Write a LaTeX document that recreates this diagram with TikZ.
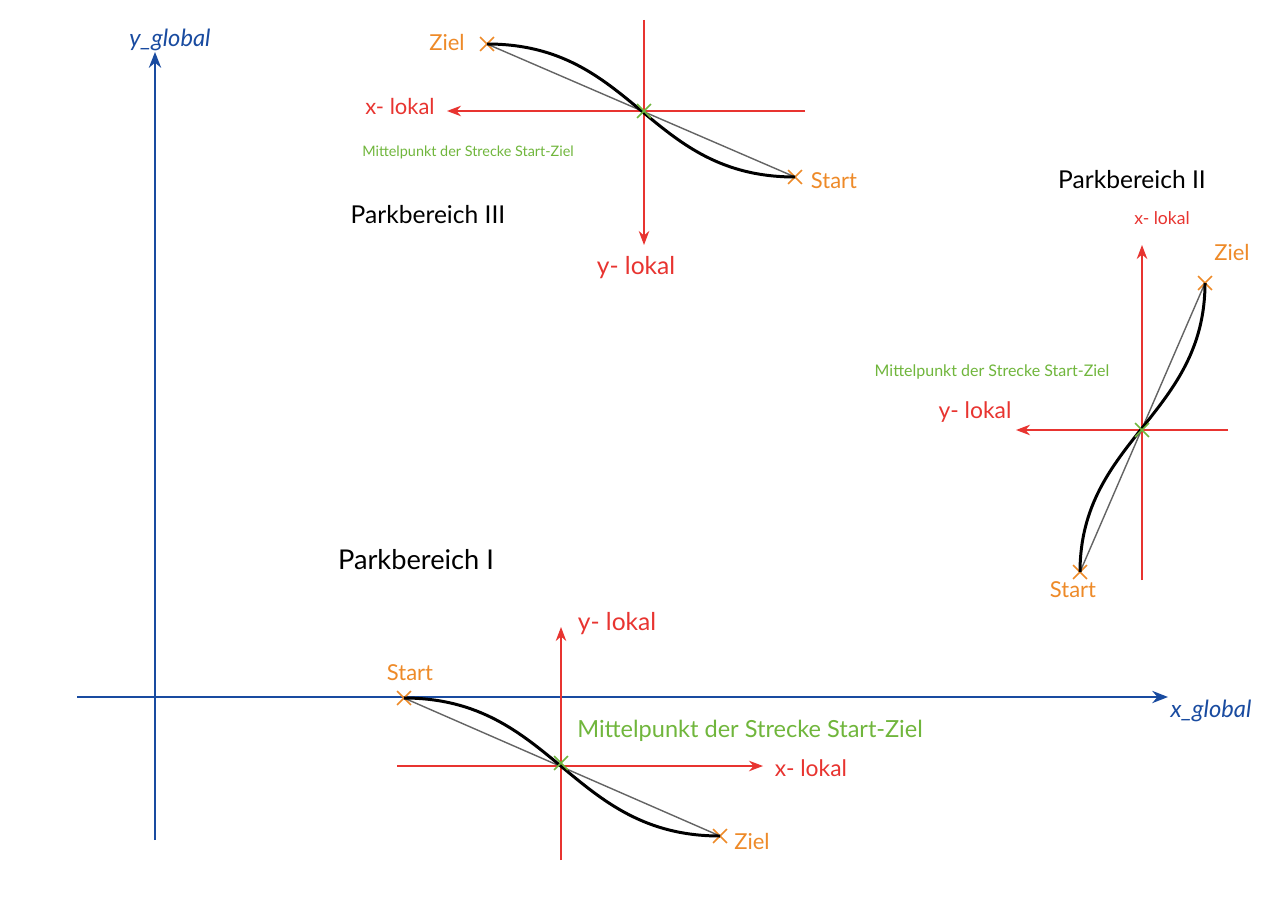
\documentclass[tikz,border=0pt]{standalone}
\usepackage{fontspec}
\setmainfont{Lato}
\usetikzlibrary{arrows.meta,shapes.misc}
\definecolor{gblue}{RGB}{25,75,160}
\definecolor{lred}{RGB}{232,52,48}
\definecolor{lorange}{RGB}{238,138,40}
\definecolor{lgreen}{RGB}{112,182,60}
\definecolor{chord}{RGB}{100,100,100}
\tikzset{
  globalaxis/.style={draw=gblue, line width=1.1pt, -{Stealth[length=9pt,width=7pt]}},
  localaxis/.style={draw=lred, line width=0.7pt, -{Stealth[length=8pt,width=6pt]}},
  pathcurve/.style={draw=black, line width=1.7pt},
  chordline/.style={draw=chord, line width=0.8pt},
  endmark/.style={cross out, draw=lorange, line width=0.9pt, minimum size=7pt, inner sep=0pt},
  midmark/.style={cross out, draw=lgreen, line width=0.9pt, minimum size=7pt, inner sep=0pt},
  globallabel/.style={text=gblue, font=\itshape\fontsize{13.5}{14}\selectfont, inner sep=0pt},
  locallabel/.style={text=lred, font=\fontsize{13}{13}\selectfont, inner sep=0pt},
  endlabel/.style={text=lorange, font=\fontsize{12.5}{13}\selectfont, inner sep=0pt},
  midlabel/.style={text=lgreen, font=\fontsize{13.4}{14}\selectfont, inner sep=0pt},
  arealabel/.style={text=black, font=\fontsize{15.5}{16}\selectfont, inner sep=0pt},
}
\begin{document}
\begin{tikzpicture}[x=0.02cm, y=-0.02cm]
\useasboundingbox (0,0) rectangle (1280,902);
\fill[white] (0,0) rectangle (1280,902);

% global axes
\coordinate (gyS) at (155,840);
\coordinate (gyE) at (155,52);
\coordinate (gxS) at (77,697);
\coordinate (gxE) at (1168,697);
\draw[globalaxis] (gyS) -- (gyE);
\draw[globalaxis] (gxS) -- (gxE);
\node[globallabel] (ygl) at (170,40) {y\_global};
\node[globallabel] (xgl) at (1211,711) {x\_global};

% ---------- Parkbereich I ----------
\coordinate (o1) at (561,763);
\coordinate (a1yS) at (561,860);
\coordinate (a1yE) at (561,627);
\coordinate (a1xS) at (397,766);
\coordinate (a1xE) at (763,766);
\draw[localaxis] (a1yS) -- (a1yE);
\draw[localaxis] (a1xS) -- (a1xE);
\node[endmark] (s1) at (404,698) {};
\node[endmark] (z1) at (720,836) {};
\draw[chordline] (s1.center) -- (z1.center);
\draw[pathcurve] (s1.center) .. controls (554,698) and (570,836) .. (z1.center);
\node[midmark] (m1) at (o1) {};
\node[arealabel] (p1) at (416,560) {Parkbereich I};
\node[endlabel] (s1l) at (410,673) {Start};
\node[endlabel] (z1l) at (752,841) {Ziel};
\node[locallabel, font=\fontsize{14}{14}\selectfont] (y1l) at (617,624) {y- lokal};
\node[locallabel] (x1l) at (811,768) {x- lokal};
\node[midlabel] (m1l) at (750,731) {Mittelpunkt der Strecke Start-Ziel};

% ---------- Parkbereich III ----------
\coordinate (o3) at (644,111);
\coordinate (a3yS) at (644,20);
\coordinate (a3yE) at (644,245);
\coordinate (a3xS) at (805,111);
\coordinate (a3xE) at (447,111);
\draw[localaxis] (a3yS) -- (a3yE);
\draw[localaxis] (a3xS) -- (a3xE);
\node[endmark] (z3) at (487,44) {};
\node[endmark] (s3) at (795,177) {};
\draw[chordline] (z3.center) -- (s3.center);
\draw[pathcurve] (z3.center) .. controls (635,44) and (647,177) .. (s3.center);
\node[midmark] (m3) at (o3) {};
\node[arealabel, font=\fontsize{14}{14}\selectfont] (p3) at (428,215) {Parkbereich III};
\node[endlabel] (z3l) at (447,42) {Ziel};
\node[endlabel] (s3l) at (834,181) {Start};
\node[locallabel, font=\fontsize{12.5}{13}\selectfont] (x3l) at (400,107) {x- lokal};
\node[locallabel, font=\fontsize{14}{14}\selectfont] (y3l) at (636,268) {y- lokal};
\node[midlabel, font=\fontsize{8.2}{9}\selectfont] (m3l) at (468,152) {Mittelpunkt der Strecke Start-Ziel};

% ---------- Parkbereich II ----------
\coordinate (o2) at (1142,430);
\coordinate (a2yS) at (1142,580);
\coordinate (a2yE) at (1142,245);
\coordinate (a2xS) at (1228,430);
\coordinate (a2xE) at (1016,430);
\draw[localaxis] (a2yS) -- (a2yE);
\draw[localaxis] (a2xS) -- (a2xE);
\node[endmark] (s2) at (1080,572) {};
\node[endmark] (z2) at (1205,283) {};
\draw[chordline] (s2.center) -- (z2.center);
\draw[pathcurve] (s2.center) .. controls (1080,440) and (1205,415) .. (z2.center);
\node[midmark] (m2) at (o2) {};
\node[arealabel, font=\fontsize{14}{14}\selectfont] (p2) at (1132,180) {Parkbereich II};
\node[locallabel, font=\fontsize{10}{10}\selectfont] (x2l) at (1162,218) {x- lokal};
\node[locallabel] (y2l) at (975,412) {y- lokal};
\node[endlabel] (z2l) at (1232,252) {Ziel};
\node[endlabel] (s2l) at (1073,590) {Start};
\node[midlabel, font=\fontsize{9.1}{10}\selectfont] (m2l) at (992,372) {Mittelpunkt der Strecke Start-Ziel};
\end{tikzpicture}
\end{document}
